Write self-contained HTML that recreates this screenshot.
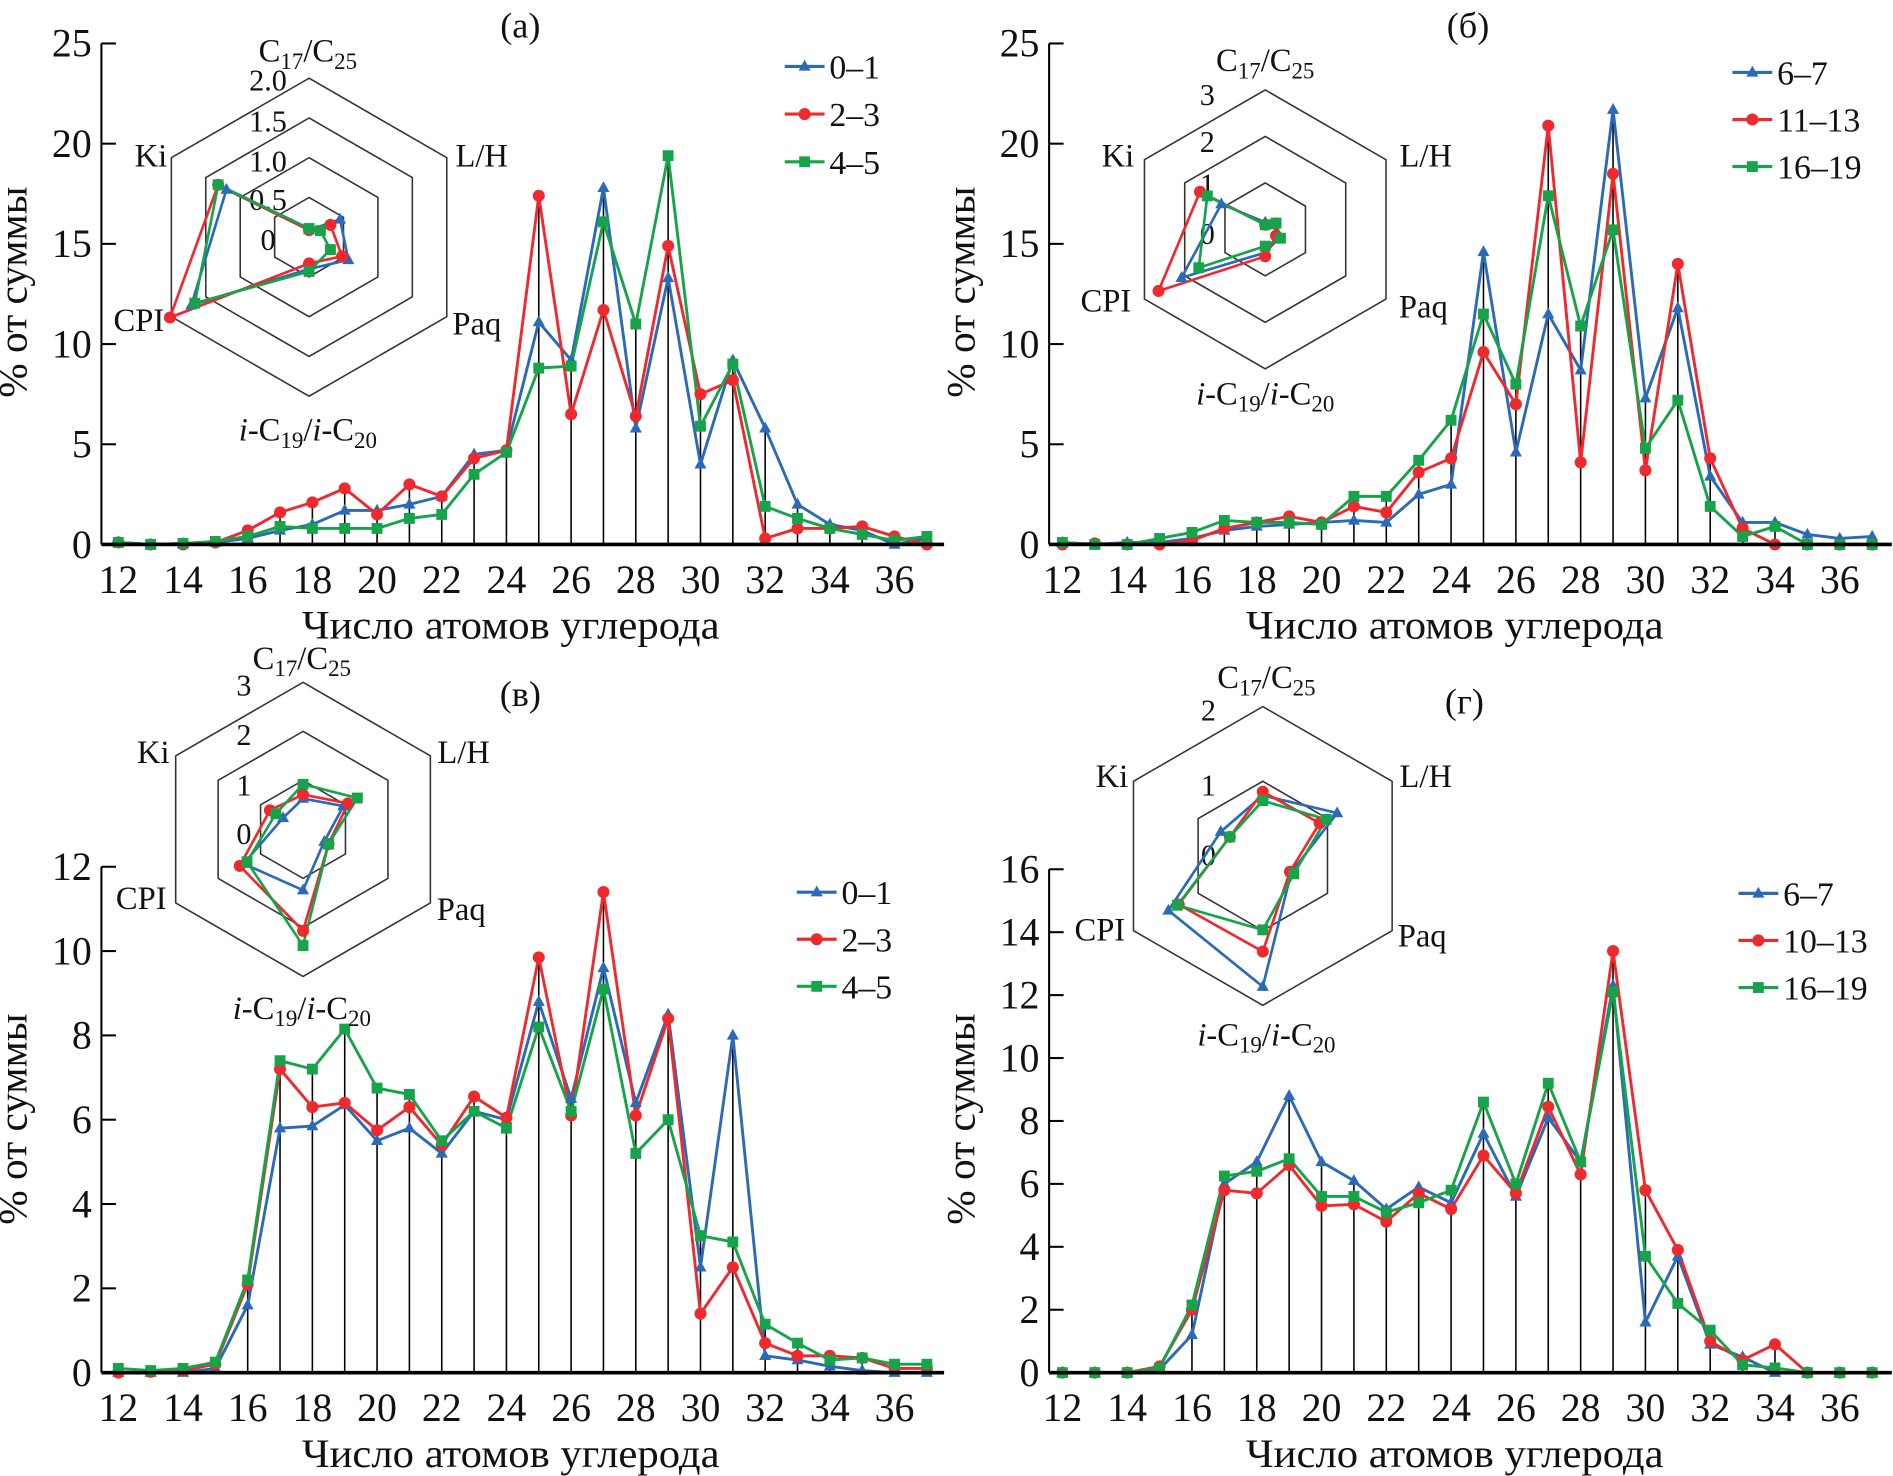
<!DOCTYPE html>
<html><head><meta charset="utf-8"><style>
html,body{margin:0;padding:0;background:#fff;}
svg{display:block;font-family:"Liberation Serif",serif;}
</style></head><body>
<svg id="fig" width="1893" height="1476" viewBox="0 0 1568 1222.6" xmlns="http://www.w3.org/2000/svg"></svg>
<script>
// ---------- data ----------
const carbons = [12,13,14,15,16,17,18,19,20,21,22,23,24,25,26,27,28,29,30,31,32,33,34,35,36,37];
const radarAxes = ["C17/C25","L/H","Paq","iC19/iC20","CPI","Ki"];

const legendA = ["0–1","2–3","4–5"];
const aBlue  = [0.1,0,0.05,0.1,0.3,0.7,1.0,1.7,1.7,2.0,2.4,4.5,4.7,11.1,9.2,17.8,5.8,13.3,4.0,9.2,5.8,2.0,1.0,0.7,0.0,0.3];
const aRed   = [0.1,0,0,0.1,0.7,1.6,2.1,2.8,1.5,3.0,2.4,4.3,4.7,17.4,6.5,11.7,6.4,14.9,7.5,8.2,0.3,0.8,0.8,0.9,0.4,0];
const aGreen = [0.1,0,0.05,0.15,0.4,0.9,0.8,0.8,0.8,1.3,1.5,3.5,4.6,8.8,8.9,16.1,11.0,19.4,5.9,9.0,1.9,1.3,0.8,0.5,0.2,0.4];
const aRadarBlue  = [0.09,0.45,0.57,0.40,1.71,1.20];
const aRadarRed   = [0.09,0.31,0.48,0.33,2.02,1.32];
const aRadarGreen = [0.11,0.165,0.31,0.43,1.66,1.32];
const aRadarTicks = ["2.0","1.5","1.0","0.5","0"];
const aYTicks = [0,5,10,15,20,25];

const legendB = ["6–7","11–13","16–19"];
const bBlue  = [0.1,0,0.1,0.1,0.3,0.7,0.9,1.0,1.1,1.2,1.1,2.5,3.0,14.6,4.6,11.5,8.7,21.7,7.3,11.8,3.4,1.1,1.1,0.5,0.3,0.4];
const bRed   = [0,0.05,0,0,0.2,0.8,1.1,1.4,1.1,1.9,1.6,3.6,4.3,9.6,7.0,20.9,4.1,18.5,3.7,14.0,4.3,0.8,0,0,0,0];
const bGreen = [0.1,0,0,0.3,0.6,1.2,1.1,1.1,1.0,2.4,2.4,4.2,6.2,11.5,8.0,17.4,10.9,15.7,4.8,7.2,1.9,0.4,0.9,0,0,0];
const bRadarBlue  = [0.15,0.2,0.35,0.5,2.08,1.09];
const bRadarRed   = [0.1,0.25,0.27,0.58,2.65,1.62];
const bRadarGreen = [0.1,0.27,0.38,0.36,1.65,1.44];
const bRadarTicks = ["3","2","1","0"];
const bYTicks = [0,5,10,15,20,25];

const legendC = ["0–1","2–3","4–5"];
const cBlue  = [0,0,0,0.1,1.6,5.8,5.85,6.35,5.5,5.8,5.2,6.2,6.0,8.8,6.5,9.6,6.4,8.5,2.5,8.0,0.4,0.3,0.15,0.05,0,0];
const cRed   = [0,0.02,0.05,0.2,2.1,7.2,6.3,6.4,5.75,6.3,5.4,6.55,6.05,9.85,6.1,11.4,6.1,8.4,1.4,2.5,0.7,0.4,0.4,0.35,0.1,0.1];
const cGreen = [0.1,0.05,0.1,0.25,2.2,7.4,7.2,8.15,6.75,6.6,5.5,6.2,5.8,8.2,6.2,9.1,5.2,6.0,3.25,3.1,1.15,0.7,0.3,0.35,0.2,0.2];
const cRadarBlue  = [0.63,0.95,0.5,1.24,1.4,0.47];
const cRadarRed   = [0.71,1.06,0.6,2.07,1.49,0.78];
const cRadarGreen = [0.92,1.28,0.6,2.37,1.32,0.64];
const cRadarTicks = ["3","2","1","0"];
const cYTicks = [0,2,4,6,8,10,12];

const legendD = ["6–7","10–13","16–19"];
const dBlue  = [0,0,0,0.1,1.2,6.0,6.7,8.8,6.7,6.1,5.2,5.9,5.4,7.6,5.6,8.1,6.7,12.3,1.6,3.7,0.9,0.5,0,0,0,0];
const dRed   = [0,0,0,0.2,2.0,5.8,5.7,6.6,5.3,5.35,4.8,5.7,5.2,6.9,5.7,8.45,6.3,13.4,5.8,3.9,1.0,0.4,0.9,0,0,0];
const dGreen = [0,0,0,0.15,2.15,6.25,6.4,6.8,5.6,5.6,5.1,5.4,5.8,8.6,6.0,9.2,6.7,12.1,3.7,2.2,1.35,0.25,0.15,0,0,0];
const dRadarBlue  = [0.81,1.15,0.44,1.75,1.46,0.65];
const dRadarRed   = [0.86,0.88,0.42,1.28,1.30,0.51];
const dRadarGreen = [0.74,0.98,0.48,0.99,1.32,0.51];
const dRadarTicks = ["2","1","0"];
const dYTicks = [0,2,4,6,8,10,12,14,16];

const xTicks = [12,14,16,18,20,22,24,26,28,30,32,34,36];

// ---------- drawing ----------
const NS="http://www.w3.org/2000/svg";
const svg=document.getElementById('fig');
const COL=["#2a6ab8","#ee2a2e","#17a34a"];
function mk(tag,attrs,parent){const e=document.createElementNS(NS,tag);for(const k in attrs)e.setAttribute(k,attrs[k]);(parent||svg).appendChild(e);return e;}

function marker(g,kind,x,y,color){
  let m;
  if(kind===0){m=mk('polygon',{points:`${x},${y-5.5} ${x-5},${y+3.5} ${x+5},${y+3.5}`,fill:color},g);}
  else if(kind===1){m=mk('circle',{cx:x,cy:y,r:5,fill:color},g);}
  else {m=mk('rect',{x:x-4.5,y:y-4.5,width:9,height:9,fill:color},g);}
  
  
}

function radarLabel(g,txt,x,y){
  const t=mk('text',{x:x,y:y,'font-size':27,'text-anchor':'middle',fill:'#111'},g);
  
  
  if(txt==="C17/C25"){
    t.innerHTML='C<tspan font-size="19" dy="6">17</tspan><tspan dy="-6">/C</tspan><tspan font-size="19" dy="6">25</tspan>';
  } else if(txt==="iC19/iC20"){
    t.innerHTML='<tspan font-style="italic">i</tspan>-C<tspan font-size="19" dy="6">19</tspan><tspan dy="-6">/</tspan><tspan font-style="italic">i</tspan>-C<tspan font-size="19" dy="6">20</tspan>';
  } else t.textContent=txt;
}

function panel(p){
  const g=mk('g',{});
  
  
  const xs=v=>p.x12+(v-12)*p.kx;
  const ys=v=>p.y0-v*p.ky;
  const ytop=ys(p.yticks[p.yticks.length-1]);
  // stems
  carbons.forEach((c,i)=>{
    const m=Math.max(p.series[0][i],p.series[1][i],p.series[2][i]);
    if(m>0.3){const l=mk('line',{x1:xs(c),y1:p.y0,x2:xs(c),y2:ys(m),stroke:'#000','stroke-width':1.3},g);
      
      }
  });
  // axes
  const ya=mk('line',{x1:p.ax,y1:ytop,x2:p.ax,y2:p.y0,stroke:'#000','stroke-width':1.7},g);
  
  
  p.yticks.forEach(v=>{
    mk('line',{x1:p.ax,y1:ys(v),x2:p.ax+12,y2:ys(v),stroke:'#000','stroke-width':1.7},g);
    const t=mk('text',{x:p.ax-8,y:ys(v)+11,'font-size':33,'text-anchor':'end',fill:'#111'},g);
    
    
    t.textContent=v;
  });
  xTicks.forEach(v=>{
    const t=mk('text',{x:xs(v),y:p.y0+40,'font-size':33,'text-anchor':'middle',fill:'#111'},g);
    
    
    t.textContent=v;
  });
  // series
  p.series.forEach((s,k)=>{
    const pts=carbons.map((c,i)=>xs(c)+','+ys(s[i])).join(' ');
    const pl=mk('polyline',{points:pts,fill:'none',stroke:COL[k],'stroke-width':2.4,'stroke-linejoin':'round'},g);
    
    
  });
  p.series.forEach((s,k)=>{carbons.forEach((c,i)=>marker(g,k,xs(c),ys(s[i]),COL[k]));});
  const xa=mk('line',{x1:p.ax,y1:p.y0,x2:p.ax+698,y2:p.y0,stroke:'#000','stroke-width':3},g);
  
  
  // titles
  const xt=mk('text',{x:p.x12+325,y:p.y0+78,'font-size':33,'text-anchor':'middle',fill:'#111',textLength:346,lengthAdjust:'spacingAndGlyphs'},g);
  
  
  xt.textContent='Число атомов углерода';
  const yc=p.ytc;
  const yt=mk('text',{x:0,y:0,'font-size':33,'text-anchor':'middle',fill:'#111',transform:`translate(${p.ax-62},${yc}) rotate(-90)`,textLength:175,lengthAdjust:'spacingAndGlyphs'},g);
  
  
  yt.textContent='% от суммы';
  const pt=mk('text',{x:p.title[0],y:p.title[1]+10,'font-size':30,'text-anchor':'middle',fill:'#111'},g);
  
  
  pt.textContent=p.label;
  // legend
  p.legend.forEach((lab,k)=>{
    const y=p.leg[1]+k*p.leg[2];
    const lg=mk('g',{},g);
    
    
    mk('line',{x1:p.leg[0],y1:y,x2:p.leg[0]+33,y2:y,stroke:COL[k],'stroke-width':2.6},lg);
    marker(lg,k,p.leg[0]+16.5,y,COL[k]);
    const t=mk('text',{x:p.leg[0]+37,y:y+10,'font-size':28,fill:'#111'},lg);
    t.textContent=lab;
  });
  // radar
  const r=p.radar;
  const rg=mk('g',{},g);
  
  
  const ang=[-90,-30,30,90,150,210].map(a=>a*Math.PI/180);
  const rp=(v,i)=>[r.cx+Math.cos(ang[i])*v*r.unit, r.cy+Math.sin(ang[i])*v*r.unit];
  r.rings.forEach(v=>{
    const h=mk('polygon',{points:ang.map((a,i)=>rp(v,i).join(',')).join(' '),fill:'none',stroke:'#333','stroke-width':1.3},rg);
    
    
  });
  r.ticks.forEach((t,i)=>{
    const tt=mk('text',{x:r.tickX,y:r.tickY[i]+9,'font-size':25,'text-anchor':'middle',fill:'#111'},rg);
    
    
    tt.textContent=t;
  });
  r.series.forEach((s,k)=>{
    const pts=s.map((v,i)=>rp(v,i).join(',')).join(' ');
    const pg=mk('polygon',{points:pts,fill:'none',stroke:COL[k],'stroke-width':2.2},rg);
    
    
  });
  r.series.forEach((s,k)=>s.forEach((v,i)=>{const q=rp(v,i);marker(rg,k,q[0],q[1],COL[k]);}));
  radarAxes.forEach((a,i)=>radarLabel(rg,a,r.labels[i][0],r.labels[i][1]+9));
}

panel({name:'panel-a',label:'(а)',x12:98,kx:26.79,y0:451,ky:16.6,ax:84,yticks:aYTicks,ytc:242,
  series:[aBlue,aRed,aGreen],legend:legendA,leg:[650,55,39.5],title:[431,21],
  radar:{cx:256,cy:196.5,unit:65.85,rings:[0.5,1,1.5,2],series:[aRadarBlue,aRadarRed,aRadarGreen],
    ticks:aRadarTicks,tickX:222,tickY:[66,100,133,165,198],
    labels:[[255,42],[399,129],[395,268],[255,356],[115,265],[125,129]]}});
panel({name:'panel-b',label:'(б)',x12:880,kx:26.83,y0:451,ky:16.6,ax:869,yticks:bYTicks,ytc:242,
  series:[bBlue,bRed,bGreen],legend:legendB,leg:[1435,60,39],title:[1216,21],
  radar:{cx:1048,cy:190,unit:38.5,rings:[1,2,3],series:[bRadarBlue,bRadarRed,bRadarGreen],
    ticks:bRadarTicks,tickX:1000,tickY:[78,117,152,193],
    labels:[[1048,50],[1181,129],[1179,254],[1048,326],[916,249],[926,129]]}});
panel({name:'panel-v',label:'(в)',x12:98,kx:26.79,y0:1137,ky:34.92,ax:84,yticks:cYTicks,ytc:927,
  series:[cBlue,cRed,cGreen],legend:legendC,leg:[660,739,39],title:[431,575],
  radar:{cx:251,cy:687,unit:40.6,rings:[1,2,3],series:[cRadarBlue,cRadarRed,cRadarGreen],
    ticks:cRadarTicks,tickX:202,tickY:[567,608,650,690],
    labels:[[250,545],[384,623],[382,753],[250,835],[117,744],[127,623]]}});
panel({name:'panel-g',label:'(г)',x12:880,kx:26.83,y0:1137,ky:26.06,ax:869,yticks:dYTicks,ytc:927,
  series:[dBlue,dRed,dGreen],legend:legendD,leg:[1440,740,39],title:[1213,581],
  radar:{cx:1046,cy:709,unit:61.85,rings:[1,2],series:[dRadarBlue,dRadarRed,dRadarGreen],
    ticks:dRadarTicks,tickX:1001,tickY:[588,650,708],
    labels:[[1049,561],[1181,643],[1178,775],[1049,857],[911,770],[921,643]]}});
</script>
</body></html>
